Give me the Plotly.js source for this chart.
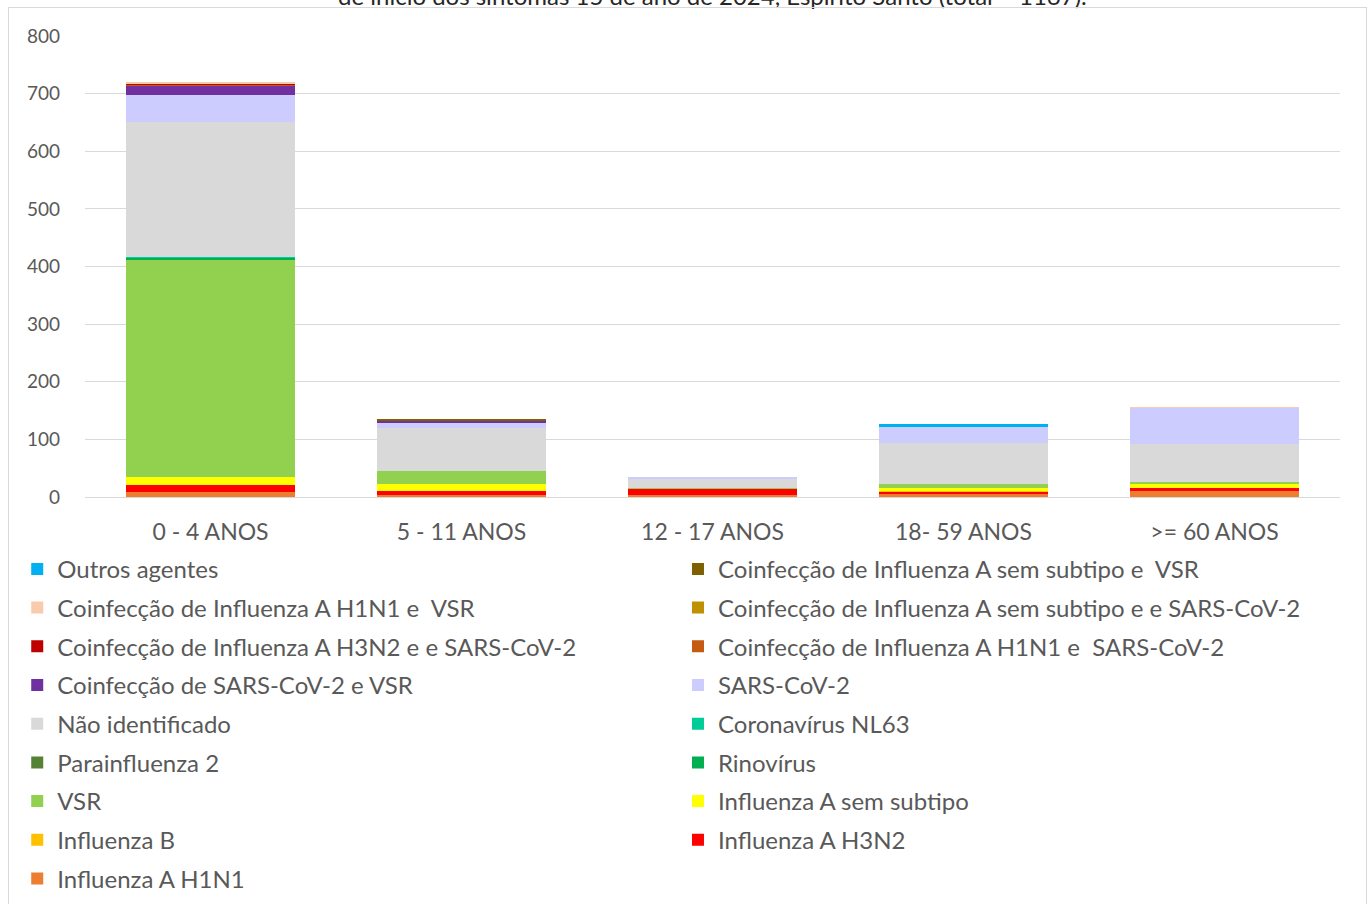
<!DOCTYPE html>
<html>
<head>
<meta charset="utf-8">
<script src="https://cdn.plot.ly/plotly-3.0.1.min.js"></script>
<style>
  html, body { margin: 0; padding: 0; background: #fff; }
  #wrap { position: relative; width: 1372px; height: 904px; overflow: hidden; }
  #chart { width: 1372px; height: 904px; }
  #frame { position: absolute; left: 8px; top: 7px; width: 1357px; height: 920px; border: 1px solid #d9d9d9; pointer-events: none; }
</style>
</head>
<body>
<div id="wrap">
  <div id="chart"></div>
  <div id="frame"></div>
</div>
<script>
const categories = ["0 - 4 ANOS", "5 - 11 ANOS", "12 - 17 ANOS", "18- 59 ANOS", ">= 60 ANOS"];

const titleText = "de início dos sintomas 15 de ano de 2024, Espírito Santo (total = 1167).";

// Series listed from bottom of the stack to top
const seriesNames = [
  "Influenza A H1N1",
  "Influenza A H3N2",
  "Influenza B",
  "Influenza A sem subtipo",
  "VSR",
  "Rinovírus",
  "Parainfluenza 2",
  "Coronavírus NL63",
  "Não identificado",
  "SARS-CoV-2",
  "Coinfecção de SARS-CoV-2 e VSR",
  "Coinfecção de Influenza A H1N1 e  SARS-CoV-2",
  "Coinfecção de Influenza A H3N2 e e SARS-CoV-2",
  "Coinfecção de Influenza A sem subtipo e e SARS-CoV-2",
  "Coinfecção de Influenza A H1N1 e  VSR",
  "Coinfecção de Influenza A sem subtipo e  VSR",
  "Outros agentes"
];

const influenzaH1N1      = [9, 3, 4, 6, 10];
const influenzaH3N2      = [12, 7, 10, 3, 5];
const influenzaB         = [0, 0, 0, 1, 0];
const influenzaASem      = [14, 12, 0, 6, 7];
const vsr                = [377, 23, 1, 6, 4];
const rinovirus          = [3, 0, 0, 0, 0];
const parainfluenza2     = [0, 0, 0, 0, 0];
const coronavirusNL63    = [1, 0, 0, 0, 0];
const naoIdentificado    = [234, 75, 17, 71, 66];
const sarsCov2           = [47, 10, 1, 29, 63];
const coinfSarsVsr       = [17, 2, 0, 0, 0];
const coinfH1N1Sars      = [1, 0, 0, 0, 0];
const coinfH3N2Sars      = [2, 1, 0, 0, 0];
const coinfASemSars      = [0, 0, 0, 0, 0];
const coinfH1N1Vsr       = [2, 0, 0, 0, 1];
const coinfASemVsr       = [0, 1, 0, 0, 0];
const outrosAgentes      = [0, 0, 0, 4, 0];

const seriesValues = [
  influenzaH1N1, influenzaH3N2, influenzaB, influenzaASem, vsr, rinovirus,
  parainfluenza2, coronavirusNL63, naoIdentificado, sarsCov2, coinfSarsVsr,
  coinfH1N1Sars, coinfH3N2Sars, coinfASemSars, coinfH1N1Vsr, coinfASemVsr, outrosAgentes
];

const seriesColors = [
  "#ed7d31", "#ff0000", "#ffc000", "#ffff00", "#92d050", "#00b050",
  "#548235", "#00cc99", "#d9d9d9", "#ccccff", "#7030a0",
  "#c55a11", "#c00000", "#bf9000", "#f8cbad", "#7f6000", "#00b0f0"
];

const FONT = "Lato, 'Open Sans', sans-serif";
const TXT = "#595959";

const traces = seriesNames.map((name, i) => ({
  type: "bar",
  name: name,
  x: categories,
  y: seriesValues[i],
  marker: { color: seriesColors[i], line: { width: 0 } },
  legend: (i % 2 === 0) ? "legend" : "legend2",
  legendgroup: "g" + i,
  legendrank: 1000 - i,
  hoverinfo: "name+y"
}));

const legendCommon = {
  orientation: "v",
  traceorder: "grouped",
  tracegroupgap: 4.5,
  font: { family: FONT, size: 24, color: TXT },
  bgcolor: "rgba(0,0,0,0)",
  yanchor: "top",
  xanchor: "left",
  itemclick: false,
  itemdoubleclick: false
};

const layout = {
  width: 1372,
  height: 904,
  margin: { l: 85, r: 32, t: 36, b: 407, autoexpand: false },
  paper_bgcolor: "#ffffff",
  plot_bgcolor: "#ffffff",
  barmode: "stack",
  bargap: 0.33,
  showlegend: true,
  annotations: [{
    text: titleText,
    xref: "paper", yref: "paper",
    x: 0.5, y: 1.0868,
    xanchor: "center", yanchor: "middle",
    showarrow: false,
    font: { family: FONT, size: 24, color: "#262626" }
  }],
  xaxis: {
    type: "category",
    showgrid: false,
    showline: true,
    linecolor: "#d9d9d9",
    linewidth: 1,
    ticks: "",
    ticklabelstandoff: 14,
    tickfont: { family: FONT, size: 23, color: TXT },
    fixedrange: true
  },
  yaxis: {
    range: [0, 800],
    dtick: 100,
    showgrid: true,
    gridcolor: "#d9d9d9",
    gridwidth: 1,
    zeroline: false,
    showline: false,
    ticks: "",
    ticklen: 0,
    ticklabelstandoff: 24,
    tickfont: { family: FONT, size: 19, color: TXT },
    fixedrange: true
  },
  legend: Object.assign({}, legendCommon, { x: -0.054, y: -0.108 }),
  legend2: Object.assign({}, legendCommon, { x: 0.4725, y: -0.108 })
};

Plotly.newPlot("chart", traces, layout, { displayModeBar: false });
</script>
</body>
</html>
